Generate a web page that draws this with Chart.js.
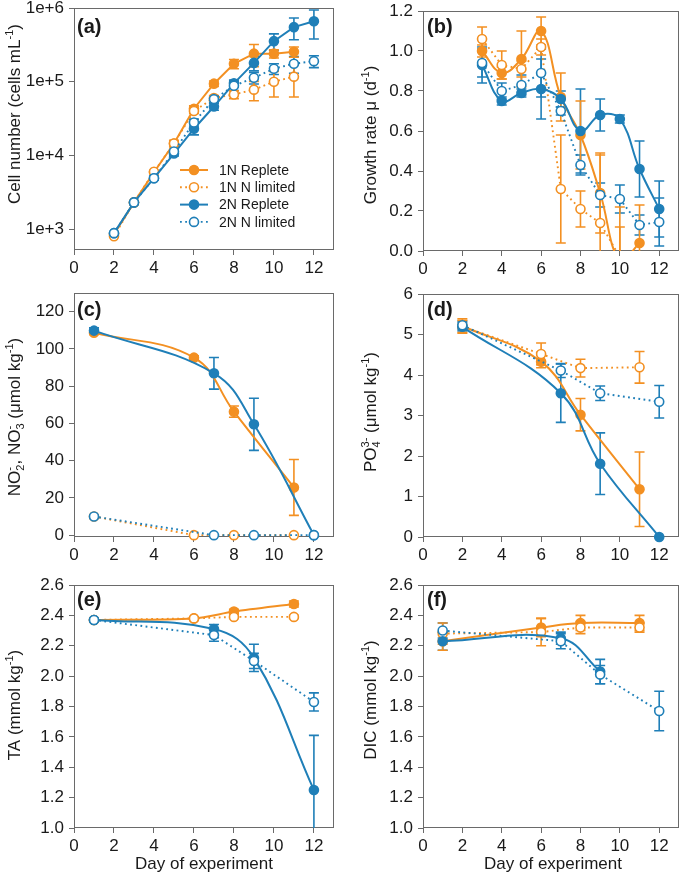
<!DOCTYPE html>
<html><head><meta charset="utf-8">
<script src="https://cdn.jsdelivr.net/npm/chart.js@4.4.1/dist/chart.umd.min.js"></script>
<style>
html,body{margin:0;padding:0;background:#fff}
body{width:685px;height:885px;position:relative;overflow:hidden}
canvas{position:absolute}
</style></head><body>
<canvas id="pa" width="340" height="285" style="left:0px;top:0px"></canvas>
<canvas id="pb" width="340" height="285" style="left:345px;top:0px"></canvas>
<canvas id="pc" width="340" height="285" style="left:0px;top:285px"></canvas>
<canvas id="pd" width="340" height="285" style="left:345px;top:285px"></canvas>
<canvas id="pe" width="340" height="315" style="left:0px;top:570px"></canvas>
<canvas id="pf" width="340" height="315" style="left:345px;top:570px"></canvas>
<script>
// ---------------- DATA ----------------
const seriesNames = ['1N Replete', '1N N limited', '2N Replete', '2N N limited'];
const dayTicks = [0, 2, 4, 6, 8, 10, 12];

// (a) Cell number (cells mL-1)
const daysA = [2, 3, 4, 5, 6, 7, 8, 9, 10, 11, 12];
const cells1NRep    = [850, 2300, 5900, 14500, 43000, 94000, 175000, 240000, 240000, 255000, null];
const cells1NRepErr = [0, 0, 0, 1500, 4000, 8000, 25000, 80000, 30000, 40000, null];
const cells1NLim    = [800, 2300, 6000, 14500, 40000, 60000, 67000, 78000, 100000, 117000, null];
const cells1NLimErr = [0, 0, 0, 1000, 3000, 5000, 8000, 23000, 38000, 55000, null];
const cells2NRep    = [880, 2300, 4900, 10600, 23000, 46000, 95000, 180000, 355000, 550000, 660000];
const cells2NRepErr = [0, 0, 300, 800, 4000, 5000, 10000, 40000, 90000, 180000, 280000];
const cells2NLim    = [880, 2300, 4900, 11300, 28000, 58000, 88000, 113000, 150000, 175000, 190000];
const cells2NLimErr = [0, 0, 300, 800, 3000, 6000, 12000, 20000, 25000, 45000, 35000];
const cellTicks = [1e3, 1e4, 1e5, 1e6];

// (b) Growth rate (d-1)
const daysB = [3, 4, 5, 6, 7, 8, 9, 10, 11, 12];
const mu1NRep    = [1.00, 0.89, 0.96, 1.10, 0.77, 0.58, 0.29, -0.05, 0.04, null];
const mu1NRepErr = [0.03, 0.03, 0.14, 0.07, 0.12, 0.17, 0.20, 0.17, 0.19, null];
const mu1NLim    = [1.06, 0.93, 0.91, 1.02, 0.31, 0.21, 0.14, -0.03, null, null];
const mu1NLimErr = [0.06, 0.07, 0.04, 0.04, 0.27, 0.09, 0.34, 0.25, null, null];
const mu2NRep    = [0.93, 0.75, 0.79, 0.81, 0.76, 0.60, 0.68, 0.66, 0.41, 0.21];
const mu2NRepErr = [0.09, 0.02, 0.02, 0.15, 0.04, 0.21, 0.08, 0.02, 0.14, 0.14];
const mu2NLim    = [0.94, 0.80, 0.83, 0.89, 0.70, 0.43, 0.28, 0.26, 0.13, 0.145];
const mu2NLimErr = [0.07, 0.04, 0.05, 0.12, 0.02, 0.05, 0.06, 0.07, 0.05, 0.12];
const muTicks = [0, 0.2, 0.4, 0.6, 0.8, 1.0, 1.2];

// (c) NO2-, NO3- (umol kg-1)
const daysC1N = [1, 6, 8, 11];
const daysC2N = [1, 7, 9, 12];
const no1NRep    = [108.7, 95.3, 66.3, 25.6];
const no1NRepErr = [1.0, 1.0, 3.0, 15.0];
const no1NLim    = [10, 0, 0, 0];
const no1NLimErr = [0.5, 0, 0, 0];
const no2NRep    = [109.8, 86.9, 59.5, 0];
const no2NRepErr = [1.5, 8.5, 14.0, 0];
const no2NLim    = [10, 0, 0, 0];
const no2NLimErr = [0.5, 0, 0, 0];
const noTicks = [0, 20, 40, 60, 80, 100, 120];

// (d) PO4 3- (umol kg-1)
const daysD1N = [2, 6, 8, 11];
const daysD2N = [2, 7, 9, 12];
const po1NRep    = [5.21, 4.33, 3.02, 1.18];
const po1NRepErr = [0.18, 0.15, 0.40, 0.92];
const po1NLim    = [5.20, 4.52, 4.17, 4.19];
const po1NLimErr = [0.15, 0.27, 0.22, 0.39];
const po2NRep    = [5.19, 3.55, 1.81, 0];
const po2NRepErr = [0.10, 0.72, 0.76, 0];
const po2NLim    = [5.23, 4.11, 3.55, 3.34];
const po2NLimErr = [0.10, 0.17, 0.18, 0.40];
const poTicks = [0, 1, 2, 3, 4, 5, 6];

// (e) TA (mmol kg-1)
const daysE1N = [1, 6, 8, 11];
const daysE2N = [1, 7, 9, 12];
const ta1NRep    = [2.37, 2.38, 2.425, 2.475];
const ta1NRepErr = [0, 0, 0.015, 0.02];
const ta1NLim    = [2.37, 2.38, 2.39, 2.39];
const ta1NLimErr = [0.01, 0.01, 0.01, 0.01];
const ta2NRep    = [2.37, 2.31, 2.12, 1.25];
const ta2NRepErr = [0.01, 0.03, 0.09, 0.36];
const ta2NLim    = [2.37, 2.27, 2.10, 1.83];
const ta2NLimErr = [0.01, 0.04, 0.05, 0.06];

// (f) DIC (mmol kg-1)
const daysF1N = [1, 6, 8, 11];
const daysF2NRep = [1, 7, 9];
const daysF2NLim = [1, 7, 9, 12];
const dic1NRep    = [2.23, 2.32, 2.35, 2.35];
const dic1NRepErr = [0.06, 0.06, 0.05, 0.05];
const dic1NLim    = [2.28, 2.29, 2.32, 2.32];
const dic1NLimErr = [0.07, 0.09, 0.04, 0.03];
const dic2NRep    = [2.23, 2.25, 2.03];
const dic2NRepErr = [0.06, 0.04, 0.08];
const dic2NLim    = [2.30, 2.23, 2.01, 1.77];
const dic2NLimErr = [0.05, 0.05, 0.06, 0.13];
const carbTicks = [1.0, 1.2, 1.4, 1.6, 1.8, 2.0, 2.2, 2.4, 2.6];

const panelLetters = ['(a)', '(b)', '(c)', '(d)', '(e)', '(f)'];
const xTitle = 'Day of experiment';

// ---------------- STYLE ----------------
const ORANGE = '#F39022', BLUE = '#1F7FB8';
const FONT = '"Liberation Sans", Arial, Helvetica, sans-serif';
const TXT = '#1a1a1a', FRAME = '#6a6a6a';

function drawRich(ctx, item) {
  const size = item.size || 17, w = item.bold ? 'bold ' : '';
  const small = Math.round(size * 0.64);
  ctx.save();
  ctx.translate(item.x, item.y);
  if (item.rot) ctx.rotate(item.rot);
  ctx.fillStyle = TXT;
  ctx.textBaseline = 'alphabetic';
  ctx.textAlign = 'left';
  const widths = item.parts.map(p => {
    if (p.t == null) {
      ctx.font = w + small + 'px ' + FONT;
      return Math.max(p.sub ? ctx.measureText(p.sub).width : 0, p.sup ? ctx.measureText(p.sup).width : 0);
    }
    ctx.font = w + size + 'px ' + FONT;
    return ctx.measureText(p.t).width;
  });
  const total = widths.reduce((a, b) => a + b, 0);
  let x = item.align === 'left' ? 0 : -total / 2;
  const base = size * 0.36;
  item.parts.forEach((p, i) => {
    if (p.t == null) {
      ctx.font = w + small + 'px ' + FONT;
      if (p.sup) ctx.fillText(p.sup, x, base - size * 0.42);
      if (p.sub) ctx.fillText(p.sub, x, base + size * 0.24);
    } else {
      ctx.font = w + size + 'px ' + FONT;
      ctx.fillText(p.t, x, base);
    }
    x += widths[i];
  });
  ctx.restore();
}

const framePlugin = {
  id: 'frame',
  beforeDatasetsDraw(chart) {
    const { ctx, chartArea: a } = chart;
    ctx.save();
    ctx.strokeStyle = FRAME; ctx.lineWidth = 1;
    ctx.strokeRect(Math.round(a.left) + 0.5, Math.round(a.top) + 0.5, Math.round(a.right - a.left) - 1, Math.round(a.bottom - a.top) - 1);
    ctx.restore();
  }
};

const errorBarPlugin = {
  id: 'errorBars',
  beforeDatasetsDraw(chart) {
    const { ctx, chartArea: a } = chart;
    const ys = chart.scales.y;
    ctx.save();
    ctx.beginPath(); ctx.rect(a.left, a.top, a.right - a.left, a.bottom - a.top); ctx.clip();
    chart.data.datasets.forEach((ds, i) => {
      const meta = chart.getDatasetMeta(i);
      ds.data.forEach((p, j) => {
        const e = ds.errors[j];
        if (!e) return;
        const x = meta.data[j].x;
        let lo = p.y - e;
        if (ys.type === 'logarithmic' && lo <= 0) lo = ys.min / 2;
        const y1 = ys.getPixelForValue(p.y + e), y2 = ys.getPixelForValue(lo);
        ctx.strokeStyle = ds.borderColor; ctx.lineWidth = 1.6; ctx.setLineDash([]);
        ctx.beginPath();
        ctx.moveTo(x, y1); ctx.lineTo(x, y2);
        ctx.moveTo(x - 5, y1); ctx.lineTo(x + 5, y1);
        ctx.moveTo(x - 5, y2); ctx.lineTo(x + 5, y2);
        ctx.stroke();
      });
    });
    ctx.restore();
  }
};

const textPlugin = {
  id: 'richText',
  afterDraw(chart, args, opts) {
    (opts.items || []).forEach(it => drawRich(chart.ctx, it));
  }
};

const legendPlugin = {
  id: 'customLegend',
  afterDraw(chart, args, opts) {
    if (!opts.show) return;
    const ctx = chart.ctx;
    seriesNames.forEach((name, k) => {
      const ds = chart.data.datasets.find(d => d.label === name);
      const y = opts.y0 + k * opts.dy;
      ctx.save();
      ctx.strokeStyle = ds.borderColor; ctx.lineWidth = ds.borderWidth;
      ctx.setLineDash(ds.borderDash || []);
      ctx.beginPath(); ctx.moveTo(opts.x0, y); ctx.lineTo(opts.x1, y); ctx.stroke();
      ctx.setLineDash([]);
      ctx.beginPath(); ctx.arc((opts.x0 + opts.x1) / 2, y, 4.5, 0, Math.PI * 2);
      ctx.fillStyle = ds.pointBackgroundColor; ctx.fill();
      ctx.lineWidth = 1.6; ctx.strokeStyle = ds.borderColor; ctx.stroke();
      ctx.fillStyle = TXT; ctx.font = '14px ' + FONT; ctx.textBaseline = 'middle';
      ctx.fillText(name, opts.tx, y + 1);
      ctx.restore();
    });
  }
};

function series(label, days, vals, errs, color, filled, tension, clip) {
  const data = [], errors = [];
  days.forEach((d, i) => { if (vals[i] != null) { data.push({ x: d, y: vals[i] }); errors.push(errs ? errs[i] : 0); } });
  return {
    label, data, errors,
    borderColor: color,
    backgroundColor: color,
    pointBackgroundColor: filled ? color : '#ffffff',
    pointBorderColor: color,
    pointRadius: 4.5, pointBorderWidth: 1.6,
    borderWidth: filled ? 2 : 1.9,
    borderDash: filled ? [] : [1.8, 3.4],
    tension: filled ? tension : 0,
    fill: false, clip: clip
  };
}

function makePanel(id, cfg) {
  const yScale = {
    type: cfg.log ? 'logarithmic' : 'linear',
    min: cfg.ymin, max: cfg.ymax,
    afterBuildTicks: s => { s.ticks = cfg.yTicks.map(v => ({ value: v })); },
    afterFit: s => { s.width = cfg.yW; s.paddingTop = 0; s.paddingBottom = 0; },
    grid: { drawOnChartArea: false, tickLength: 5, color: FRAME, lineWidth: 1 },
    border: { display: false },
    ticks: { font: { family: FONT, size: 17 }, color: TXT, padding: 5, callback: cfg.fmt }
  };
  const xScale = {
    type: 'linear', min: 0, max: 13,
    afterBuildTicks: s => { s.ticks = dayTicks.map(v => ({ value: v })); },
    afterFit: s => { s.height = cfg.xH; s.paddingLeft = 0; s.paddingRight = 0; },
    grid: { drawOnChartArea: false, tickLength: 5, color: FRAME, lineWidth: 1 },
    border: { display: false },
    ticks: { font: { family: FONT, size: 17 }, color: TXT, padding: 3, maxRotation: 0, autoSkip: false, callback: v => String(v) }
  };
  return new Chart(document.getElementById(id), {
    type: 'line',
    data: { datasets: cfg.datasets },
    options: {
      responsive: false, animation: false, devicePixelRatio: 1, events: [],
      layout: { padding: { left: 0, top: cfg.top, right: cfg.right, bottom: 0 } },
      scales: { x: xScale, y: yScale },
      plugins: {
        legend: { display: false }, tooltip: { enabled: false },
        richText: { items: cfg.texts },
        customLegend: cfg.legend || { show: false }
      }
    },
    plugins: [framePlugin, errorBarPlugin, textPlugin, legendPlugin]
  });
}

const R90 = -Math.PI / 2;
const f1 = v => Number(v).toFixed(1);
const fi = v => String(v);

// (a)
makePanel('pa', {
  log: true, ymin: 520, ymax: 1e6, yTicks: cellTicks, fmt: v => '1e+' + Math.round(Math.log10(v)),
  yW: 74, xH: 35, top: 8, right: 6,
  datasets: [
    series(seriesNames[3], daysA, cells2NLim, cells2NLimErr, BLUE, false, 0, false),
    series(seriesNames[2], daysA, cells2NRep, cells2NRepErr, BLUE, true, 0, false),
    series(seriesNames[1], daysA, cells1NLim, cells1NLimErr, ORANGE, false, 0, false),
    series(seriesNames[0], daysA, cells1NRep, cells1NRepErr, ORANGE, true, 0, false)
  ],
  texts: [
    { x: 14, y: 114, rot: R90, parts: [{ t: 'Cell number (cells mL' }, { sup: '-1' }, { t: ')' }] },
    { x: 77, y: 26, bold: true, size: 20, align: 'left', parts: [{ t: panelLetters[0] }] }
  ],
  legend: { show: true, x0: 180, x1: 208, tx: 219, y0: 170, dy: 17.3 }
});

// (b)
makePanel('pb', {
  ymin: 0, ymax: 1.2, yTicks: muTicks, fmt: f1,
  yW: 78, xH: 34, top: 11, right: 2,
  datasets: [
    series(seriesNames[3], daysB, mu2NLim, mu2NLimErr, BLUE, false, 0.4, 0),
    series(seriesNames[2], daysB, mu2NRep, mu2NRepErr, BLUE, true, 0.4, 0),
    series(seriesNames[1], daysB, mu1NLim, mu1NLimErr, ORANGE, false, 0.4, 0),
    series(seriesNames[0], daysB, mu1NRep, mu1NRepErr, ORANGE, true, 0.4, 0)
  ],
  texts: [
    { x: 25, y: 135, rot: R90, parts: [{ t: 'Growth rate μ (d' }, { sup: '-1' }, { t: ')' }] },
    { x: 82, y: 26, bold: true, size: 20, align: 'left', parts: [{ t: panelLetters[1] }] }
  ]
});

// (c)
makePanel('pc', {
  ymin: -1, ymax: 130, yTicks: noTicks, fmt: fi,
  yW: 74, xH: 33, top: 8, right: 6,
  datasets: [
    series(seriesNames[3], daysC2N, no2NLim, no2NLimErr, BLUE, false, 0.4, false),
    series(seriesNames[2], daysC2N, no2NRep, no2NRepErr, BLUE, true, 0.4, false),
    series(seriesNames[1], daysC1N, no1NLim, no1NLimErr, ORANGE, false, 0.4, false),
    series(seriesNames[0], daysC1N, no1NRep, no1NRepErr, ORANGE, true, 0.4, false)
  ],
  texts: [
    { x: 14, y: 132, rot: R90, parts: [{ t: 'NO' }, { sub: '2', sup: '-' }, { t: ', NO' }, { sub: '3', sup: '-' }, { t: ' (μmol kg' }, { sup: '-1' }, { t: ')' }] },
    { x: 77, y: 24, bold: true, size: 20, align: 'left', parts: [{ t: panelLetters[2] }] }
  ]
});

// (d)
makePanel('pd', {
  ymin: 0, ymax: 6, yTicks: poTicks, fmt: fi,
  yW: 78, xH: 33, top: 9, right: 2,
  datasets: [
    series(seriesNames[3], daysD2N, po2NLim, po2NLimErr, BLUE, false, 0.4, false),
    series(seriesNames[2], daysD2N, po2NRep, po2NRepErr, BLUE, true, 0.4, false),
    series(seriesNames[1], daysD1N, po1NLim, po1NLimErr, ORANGE, false, 0.4, false),
    series(seriesNames[0], daysD1N, po1NRep, po1NRepErr, ORANGE, true, 0.4, false)
  ],
  texts: [
    { x: 25, y: 127, rot: R90, parts: [{ t: 'PO' }, { sub: '4', sup: '3-' }, { t: ' (μmol kg' }, { sup: '-1' }, { t: ')' }] },
    { x: 82, y: 24, bold: true, size: 20, align: 'left', parts: [{ t: panelLetters[3] }] }
  ]
});

// (e)
makePanel('pe', {
  ymin: 1.0, ymax: 2.6, yTicks: carbTicks, fmt: f1,
  yW: 74, xH: 57, top: 15, right: 6,
  datasets: [
    series(seriesNames[3], daysE2N, ta2NLim, ta2NLimErr, BLUE, false, 0.4, false),
    series(seriesNames[2], daysE2N, ta2NRep, ta2NRepErr, BLUE, true, 0.4, false),
    series(seriesNames[1], daysE1N, ta1NLim, ta1NLimErr, ORANGE, false, 0.4, false),
    series(seriesNames[0], daysE1N, ta1NRep, ta1NRepErr, ORANGE, true, 0.3, false)
  ],
  texts: [
    { x: 14, y: 135, rot: R90, parts: [{ t: 'TA (mmol kg' }, { sup: '-1' }, { t: ')' }] },
    { x: 77, y: 29, bold: true, size: 20, align: 'left', parts: [{ t: panelLetters[4] }] },
    { x: 204, y: 293, parts: [{ t: xTitle }] }
  ]
});

// (f)
makePanel('pf', {
  ymin: 1.0, ymax: 2.6, yTicks: carbTicks, fmt: f1,
  yW: 78, xH: 57, top: 15, right: 2,
  datasets: [
    series(seriesNames[3], daysF2NLim, dic2NLim, dic2NLimErr, BLUE, false, 0.4, false),
    series(seriesNames[2], daysF2NRep, dic2NRep, dic2NRepErr, BLUE, true, 0.4, false),
    series(seriesNames[1], daysF1N, dic1NLim, dic1NLimErr, ORANGE, false, 0.4, false),
    series(seriesNames[0], daysF1N, dic1NRep, dic1NRepErr, ORANGE, true, 0.4, false)
  ],
  texts: [
    { x: 25, y: 130, rot: R90, parts: [{ t: 'DIC (mmol kg' }, { sup: '-1' }, { t: ')' }] },
    { x: 82, y: 29, bold: true, size: 20, align: 'left', parts: [{ t: panelLetters[5] }] },
    { x: 208, y: 293, parts: [{ t: xTitle }] }
  ]
});
</script>
</body></html>
